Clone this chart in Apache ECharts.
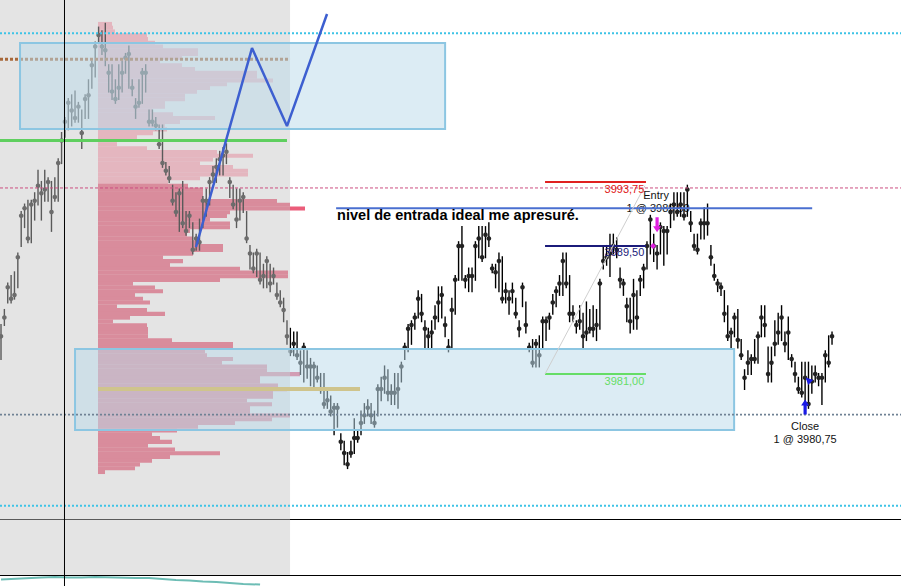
<!DOCTYPE html>
<html><head><meta charset="utf-8">
<script src="https://cdn.jsdelivr.net/npm/echarts@6/dist/echarts.min.js"></script>
<style>html,body{margin:0;padding:0;background:#fff;}#chart{width:901px;height:586px;}</style>
</head><body><div id="chart"></div>
<script>
// ---------------- DATA ----------------
const barHigh = [
3984.25,3985.25,3987.0,3987.5,3987.75,3989.0,3991.75,3992.25,3992.5,3992.5,
3993.0,3994.5,3993.75,3994.5,3994.0,3993.75,3994.0,3995.25,3997.0,3998.0,
3999.25,3999.5,3999.75,3999.0,3998.5,3999.5,4000.5,4001.75,4003.0,4004.0,
4003.75,4004.25,4001.5,4001.5,4000.5,4001.5,4001.75,4002.25,4002.75,4000.5,
3999.25,4000.5,4001.25,4001.5,3998.5,3998.5,3998.0,3997.5,3997.5,3995.0,
3994.75,3993.5,3993.0,3993.25,3993.75,3991.75,3991.75,3991.0,3990.25,3991.25,
3992.75,3993.25,3994.0,3994.75,3995.25,3995.75,3996.0,3996.25,3994.0,3993.5,
3993.25,3993.25,3993.0,3991.75,3989.5,3989.0,3989.25,3989.0,3988.25,3988.75,
3988.25,3988.0,3987.0,3986.5,3986.0,3984.5,3984.0,3983.75,3983.75,3982.5,
3983.0,3982.5,3982.0,3981.75,3981.5,3981.0,3981.0,3980.0,3979.5,3979.0,
3979.0,3977.0,3976.5,3975.75,3976.5,3978.0,3977.25,3978.5,3979.0,3979.25,
3979.0,3978.5,3980.25,3980.75,3981.5,3981.25,3980.25,3981.0,3981.0,3981.75,
3983.0,3984.25,3984.5,3985.0,3986.5,3986.25,3984.5,3984.0,3984.5,3985.5,
3986.75,3986.75,3984.75,3983.25,3986.0,3987.5,3989.75,3990.75,3987.5,3988.0,
3988.0,3989.75,3990.75,3990.75,3990.75,3991.0,3988.25,3988.25,3989.0,3988.75,
3987.0,3986.5,3987.0,3986.0,3984.5,3987.0,3985.75,3983.0,3983.25,3983.25,
3983.5,3984.75,3984.75,3985.0,3986.25,3986.75,3987.5,3989.0,3989.0,3987.5,
3985.5,3984.5,3985.5,3985.0,3985.75,3985.25,3985.5,3985.25,3987.25,3989.5,
3989.5,3990.25,3990.25,3990.0,3988.0,3987.25,3986.0,3986.0,3987.25,3986.5,
3987.5,3988.25,3989.75,3991.5,3990.25,3989.5,3991.0,3990.75,3990.75,3992.25,
3993.0,3993.0,3993.0,3993.0,3993.5,3991.75,3990.25,3990.25,3991.25,3992.0,
3992.25,3989.5,3988.25,3987.25,3987.0,3986.5,3985.5,3984.0,3985.0,3985.25,
3983.25,3981.25,3982.5,3982.25,3983.25,3983.75,3985.5,3985.5,3982.75,3982.75,
3984.5,3985.0,3985.5,3983.75,3984.75,3982.25,3981.75,3980.75,3981.75,3981.75,
3981.75,3981.5,3981.5,3981.0,3981.0,3982.5,3983.5,3983.75
];
const barLow = [
3982.0,3984.25,3985.75,3985.75,3986.0,3986.75,3989.5,3990.75,3989.75,3989.75,
3991.25,3992.25,3991.25,3992.5,3992.5,3990.5,3992.5,3992.5,3995.0,3996.75,
3997.25,3997.5,3997.75,3997.75,3996.0,3998.0,3998.0,4000.0,4000.75,4003.0,
4002.25,4001.5,3999.75,3999.25,3999.0,3999.25,3999.75,4001.0,4000.0,3999.5,
3998.0,3998.75,3999.0,3999.75,3997.5,3997.5,3997.25,3996.0,3994.75,3994.25,
3993.75,3992.25,3991.5,3990.5,3990.75,3990.25,3990.75,3989.0,3989.25,3989.25,
3990.75,3991.5,3992.25,3993.75,3993.75,3994.25,3994.25,3995.0,3992.75,3992.0,
3990.75,3991.25,3991.75,3989.75,3988.0,3987.75,3987.5,3987.0,3986.75,3986.75,
3986.5,3987.0,3986.0,3985.5,3984.5,3983.0,3982.25,3982.25,3982.0,3981.0,
3980.5,3980.75,3980.25,3980.0,3980.5,3979.75,3978.75,3978.75,3978.25,3977.0,
3977.5,3976.0,3975.0,3974.75,3975.5,3975.75,3976.5,3977.0,3977.75,3978.25,
3977.75,3977.5,3978.25,3979.25,3979.75,3979.25,3979.0,3979.0,3978.75,3980.5,
3982.0,3982.5,3983.0,3984.0,3984.75,3984.5,3982.75,3982.75,3982.75,3984.0,
3984.5,3984.75,3983.5,3982.5,3982.75,3985.0,3987.25,3987.25,3986.75,3986.5,
3986.5,3987.25,3988.75,3988.5,3988.75,3989.5,3987.75,3986.75,3986.5,3985.75,
3985.75,3985.0,3985.75,3984.75,3983.5,3985.5,3983.75,3982.5,3981.5,3981.5,
3981.5,3982.75,3983.25,3984.0,3985.0,3985.5,3986.25,3986.25,3986.75,3984.5,
3984.5,3983.75,3984.0,3982.75,3983.25,3983.75,3983.5,3983.25,3984.0,3988.0,
3988.25,3987.5,3989.0,3988.75,3986.75,3986.25,3984.5,3983.75,3984.0,3984.0,
3986.25,3986.75,3988.0,3989.0,3988.5,3988.0,3989.0,3988.25,3989.0,3990.75,
3991.25,3991.5,3991.5,3991.25,3991.5,3990.5,3989.25,3989.0,3990.0,3990.0,
3990.25,3988.25,3987.25,3986.5,3986.25,3984.5,3983.25,3982.75,3983.5,3982.75,
3982.0,3980.0,3981.0,3981.0,3981.75,3981.75,3983.5,3983.5,3980.5,3980.5,
3982.25,3983.0,3983.25,3982.5,3982.0,3981.5,3980.5,3979.75,3979.5,3979.0,
3978.75,3979.75,3980.5,3980.25,3979.0,3980.5,3981.5,3983.0
];
const barClose = [
3983.5,3984.75,3986.75,3986.0,3986.25,3988.75,3991.5,3992.0,3990.0,3992.25,
3992.5,3993.5,3993.0,3993.25,3993.75,3991.75,3992.75,3995.0,3996.5,3997.75,
3999.0,3998.5,3998.0,3998.75,3997.0,3999.25,3999.5,4001.5,4002.75,4003.5,
4002.75,4002.5,4001.0,3999.75,3999.25,4000.0,4001.0,4002.0,4002.25,4000.0,
3998.75,3999.0,4001.0,4001.0,3997.75,3997.75,3997.5,3996.25,3995.0,3994.5,
3994.0,3992.5,3991.75,3993.0,3991.0,3990.5,3991.5,3989.25,3990.0,3989.75,
3992.5,3992.5,3993.75,3994.25,3994.75,3995.25,3995.5,3995.75,3993.75,3992.25,
3991.25,3992.5,3992.75,3990.0,3989.0,3988.0,3989.0,3987.25,3987.5,3988.5,
3987.0,3987.5,3986.25,3985.75,3985.25,3983.5,3982.5,3983.0,3982.25,3981.75,
3982.75,3981.5,3981.5,3981.5,3980.75,3980.0,3979.0,3979.25,3978.5,3978.75,
3978.75,3976.5,3975.75,3975.0,3975.75,3976.75,3976.75,3977.75,3978.25,3978.75,
3978.25,3977.75,3980.0,3980.0,3980.75,3979.75,3979.75,3979.75,3980.0,3981.5,
3982.75,3984.0,3984.25,3984.75,3986.0,3985.0,3984.0,3983.5,3983.75,3984.75,
3985.75,3986.25,3984.25,3982.75,3985.25,3987.25,3989.5,3989.5,3987.25,3987.5,
3987.5,3989.5,3990.0,3988.75,3990.25,3990.0,3988.0,3987.75,3988.5,3986.0,
3986.5,3986.0,3986.5,3985.0,3984.0,3986.75,3984.25,3982.75,3981.75,3983.0,
3982.25,3984.5,3984.5,3984.75,3985.75,3986.5,3987.0,3988.5,3987.0,3985.0,
3985.0,3984.25,3984.5,3983.5,3983.75,3984.0,3984.0,3984.25,3987.0,3988.5,
3988.75,3989.0,3989.5,3989.25,3987.25,3987.0,3985.5,3984.5,3986.25,3984.75,
3987.25,3988.0,3989.5,3991.25,3989.5,3989.0,3990.75,3990.5,3990.5,3991.75,
3992.25,3991.75,3992.25,3991.5,3993.25,3991.0,3989.5,3989.25,3991.0,3991.0,
3991.0,3988.75,3987.5,3987.0,3986.75,3985.0,3983.5,3983.75,3984.75,3983.25,
3982.25,3980.75,3981.75,3982.0,3982.0,3983.5,3984.75,3984.25,3981.0,3981.75,
3983.0,3983.75,3984.75,3983.0,3983.75,3982.0,3981.0,3980.0,3979.75,3980.75,
3979.0,3980.5,3981.0,3980.75,3980.75,3982.25,3981.75,3983.5
];
// volume profile (price level, volume)
const profilePrice = [
4004.25,4004.0,4003.75,4003.5,4003.25,4003.0,4002.75,4002.5,4002.25,4002.0,
4001.75,4001.5,4001.25,4001.0,4000.75,4000.5,4000.25,4000.0,3999.75,3999.5,
3999.25,3999.0,3998.75,3998.5,3998.25,3998.0,3997.75,3997.5,3997.25,3997.0,
3996.75,3996.5,3996.25,3996.0,3995.75,3995.5,3995.25,3995.0,3994.75,3994.5,
3994.25,3994.0,3993.75,3993.5,3993.25,3993.0,3992.75,3992.5,3992.25,3992.0,
3991.75,3991.5,3991.25,3991.0,3990.75,3990.5,3990.25,3990.0,3989.75,3989.5,
3989.25,3989.0,3988.75,3988.5,3988.25,3988.0,3987.75,3987.5,3987.25,3987.0,
3986.75,3986.5,3986.25,3986.0,3985.75,3985.5,3985.25,3985.0,3984.75,3984.5,
3984.25,3984.0,3983.75,3983.5,3983.25,3983.0,3982.75,3982.5,3982.25,3982.0,
3981.75,3981.5,3981.25,3981.0,3980.75,3980.5,3980.25,3980.0,3979.75,3979.5,
3979.25,3979.0,3978.75,3978.5,3978.25,3978.0,3977.75,3977.5,3977.25,3977.0,
3976.75,3976.5,3976.25,3976.0,3975.75,3975.5,3975.25,3975.0,3974.75,3974.5
];
const profileVolume = [
14,15,17,49,50,57,65,100,100,84,
62,84,97,159,159,175,129,112,99,87,
87,67,67,54,75,117,82,67,69,55,
39,19,19,49,119,155,115,102,135,150,
150,102,70,90,105,105,105,179,192,207,
132,129,112,132,132,92,89,95,102,125,
125,95,65,85,72,142,190,190,122,35,
57,65,37,45,52,19,49,67,32,15,
49,50,50,50,74,135,135,107,109,135,
124,169,169,202,162,162,180,189,175,175,
149,174,152,152,192,174,137,100,79,54,
62,74,50,77,122,72,54,42,37,7
];
const valueAreaHigh = 3993.5;
const pocPrice = 3980.0;
// lower indicator pane
const indicatorX = [0,6,12,16,20,24,28,34,40,44,48,52,56,60,64,68,72,77];
const indicatorV = [6.5,7.5,8.5,9,8.5,8.5,9,8.5,8,8,7,6,5.5,4.5,4,3,2,1.5];
// drawn levels
const cyanTop = 4003.62, cyanBottom = 3972.25;
const grayDotted = 3978.3;
const brownDotted = 4001.9;
const greenLevel = 3996.5;
const pinkDashed = 3993.35;
const idealEntry = 3992.0;
const stopLevel = 3993.75, entryLevel = 3989.5, targetLevel = 3981.0;
const topZone = [5.65, 4002.97, 132.0, 3997.26];
const bottomZone = [22.0, 3982.66, 217.9, 3977.28];
const sessionEnd = 85.9;
const cursorBar = 18.87;
const sketchX = [57.96, 74.6, 85.0, 96.9];
const sketchY = [3989.43, 4002.64, 3997.46, 4004.9];
const tradeLineX = [161.7, 191.4];
const tradeLineY = [3981.0, 3993.5];

// ---------------- CHART ----------------
const X_MIN = -0.3, X_MAX = 267.5, P_MIN = 3971.37, P_MAX = 4005.83;
const FONT = 'Liberation Sans, Arial, sans-serif';
const chart = echarts.init(document.getElementById('chart'), null, {renderer: 'svg', width: 901, height: 586});

const hiddenX = (grid, min, max, line) => ({type: 'value', gridIndex: grid, min, max, show: true,
  axisLine: {show: !!line, onZero: false, lineStyle: {color: '#000', width: 1}},
  axisTick: {show: false}, axisLabel: {show: false}, splitLine: {show: false}});
const hiddenY = (grid, min, max) => ({type: 'value', gridIndex: grid, min, max, show: false, splitLine: {show: false}});

function seg(points, color, width, type, z, xi, yi) {
  return {type: 'line', xAxisIndex: xi || 0, yAxisIndex: yi || 0, data: points, symbol: 'none', z: z,
    silent: true, lineStyle: {color, width, type: type || 'solid', opacity: 1}, animation: false};
}
function rectSeries(data, fill, stroke, z, xi, yi) {
  return {type: 'custom', xAxisIndex: xi || 0, yAxisIndex: yi || 0, z, silent: true, data: data,
    renderItem: (params, api) => {
      const a = api.coord([api.value(0), api.value(1)]);
      const b = api.coord([api.value(2), api.value(3)]);
      return {type: 'rect', shape: {x: a[0], y: a[1], width: b[0] - a[0], height: b[1] - a[1]},
        style: {fill: fill, stroke: stroke || null, lineWidth: stroke ? 2 : 0}};
    }};
}
function textSeries(items, z) {
  return {type: 'scatter', z, silent: true, symbolSize: 0, animation: false, itemStyle: {opacity: 1},
    data: items.map(t => ({value: [t.x, t.y], label: {show: true, formatter: t.text, position: [0, 0],
      align: t.align || 'center', verticalAlign: 'middle', color: t.color || '#111', opacity: 1,
      fontFamily: FONT, fontSize: t.size || 11, fontWeight: t.bold ? 'bold' : 'normal'}}))};
}

const candleData = barHigh.map((h, i) => [i, h, barLow[i], barClose[i]]);
const profileData = profilePrice.map((p, i) => [profileVolume[i], p]);

const series = [];
// volume profile
series.push({type: 'custom', xAxisIndex: 1, yAxisIndex: 0, z: 1, silent: true, data: profileData,
  encode: {x: 0, y: 1},
  renderItem: (params, api) => {
    const v = api.value(0), p = api.value(1);
    const a = api.coord([0, p + 0.125]), b = api.coord([v, p - 0.125]);
    return {type: 'rect', shape: {x: a[0], y: a[1], width: b[0] - a[0], height: b[1] - a[1] + 0.3},
      style: {fill: p <= valueAreaHigh ? '#eb5d7a' : '#ffaabb'}};
  }});
// entry execution labels (behind bars)
series.push(textSeries([
  {text: 'Entry', x: 194.7, y: 3992.85},
  {text: '1 @ 3989,50', x: 195.3, y: 3992.0}
], 1));
// OHLC-style bars
series.push({type: 'custom', z: 2, silent: true, data: candleData, encode: {x: 0, y: [1, 2, 3]},
  renderItem: (params, api) => {
    const i = api.value(0);
    const h = api.coord([i, api.value(1)]), l = api.coord([i, api.value(2)]), c = api.coord([i, api.value(3)]);
    return {type: 'group', children: [
      {type: 'line', shape: {x1: h[0], y1: h[1] - 1, x2: l[0], y2: l[1] + 1}, style: {stroke: '#000', lineWidth: 1.4}},
      {type: 'circle', shape: {cx: c[0], cy: c[1], r: 2.3}, style: {fill: '#222'}}
    ]};
  }});
// session shading overlay
series.push(rectSeries([[X_MIN, P_MAX, sessionEnd, P_MIN]], 'rgba(196,196,196,0.46)', null, 3));
series.push(rectSeries([[X_MIN, 1, sessionEnd, 0]], 'rgba(196,196,196,0.46)', null, 3, 2, 1));
// brown dotted level (above shading, below zones)
series.push(seg([[X_MIN, brownDotted], [sessionEnd, brownDotted]], '#a8683a', 3, [3, 2], 3.5));
// zones
series.push(rectSeries([topZone, bottomZone], 'rgba(188,218,234,0.52)', '#8cc6e2', 4));
// levels and drawings
series.push(seg([[X_MIN, cyanTop], [X_MAX, cyanTop]], '#3ec3e6', 2, [2, 2], 5));
series.push(seg([[X_MIN, cyanBottom], [X_MAX, cyanBottom]], '#3ec3e6', 2, [2, 2], 5));
series.push(seg([[X_MIN, grayDotted], [X_MAX, grayDotted]], '#6f8194', 1.6, [2, 2], 5));
series.push(seg([[X_MIN, pinkDashed], [X_MAX, pinkDashed]], '#cc4d80', 1, [3, 2], 5));
series.push(seg([[X_MIN, greenLevel], [85.0, greenLevel]], '#5fcf5f', 3, 'solid', 5));
series.push(seg([[28.83, pocPrice], [106.7, pocPrice]], '#cfc48c', 4, 'solid', 5));
series.push(seg([[99.6, idealEntry], [241.1, idealEntry]], '#4a6fd0', 2, 'solid', 5));
series.push(seg([[161.7, stopLevel], [191.7, stopLevel]], '#e02020', 2, 'solid', 5));
series.push(seg([[161.7, entryLevel], [191.7, entryLevel]], '#1b1b7a', 2, 'solid', 5));
series.push(seg([[161.7, targetLevel], [191.7, targetLevel]], '#66dd66', 2, 'solid', 5));
series.push(seg(tradeLineX.map((x, i) => [x, tradeLineY[i]]), '#cfcfcf', 1, 'solid', 5));
series.push(seg(sketchX.map((x, i) => [x, sketchY[i]]), '#3d5fd0', 2.5, 'solid', 6));
// cursor line through all panes
series.push(seg([[cursorBar, P_MIN], [cursorBar, P_MAX]], '#000', 1, 'solid', 6));
series.push(seg([[cursorBar, 0], [cursorBar, 1]], '#000', 1, 'solid', 6, 2, 1));
series.push(seg([[cursorBar, 0], [cursorBar, 10]], '#000', 1, 'solid', 6, 3, 2));
// indicator pane
series.push(seg(indicatorX.map((x, i) => [x, indicatorV[i]]), '#6dbdb5', 2, 'solid', 5, 3, 2));
// texts
series.push(textSeries([
  {text: 'nivel de entrada ideal me apresuré.', x: 99.9, y: 3991.55, align: 'left', bold: true, size: 14.5, color: '#000'},
  {text: '3993,75', x: 191.2, y: 3993.3, align: 'right', color: '#e02020'},
  {text: '3989,50', x: 191.2, y: 3989.1, align: 'right', color: '#1b1b7a'},
  {text: '3981,00', x: 191.2, y: 3980.55, align: 'right', color: '#66dd66'},
  {text: 'Close', x: 239.0, y: 3977.55},
  {text: '1 @ 3980,75', x: 239.0, y: 3976.7}
], 7));
// execution arrows
series.push({type: 'scatter', z: 7, silent: true, animation: false, itemStyle: {opacity: 1}, data: [
  {value: [195.0, 3990.9], symbol: 'path://M3,0 L7,0 L7,9 L10,9 L5,15 L0,9 L3,9 Z', symbolSize: [8, 15], itemStyle: {color: '#e020e0', opacity: 1}},
  {value: [239.0, 3978.8], symbol: 'path://M5,0 L10,6 L7,6 L7,15 L3,15 L3,6 L0,6 Z', symbolSize: [8, 15], itemStyle: {color: '#1a1ae6', opacity: 1}},
  {value: [193.8, 3989.5], symbol: 'diamond', symbolSize: 6, itemStyle: {color: '#e020e0', opacity: 1}},
  {value: [239.9, 3980.6], symbol: 'triangle', symbolRotate: 45, symbolSize: 7, itemStyle: {color: '#1a1ae6', opacity: 1}}
]});

chart.setOption({
  animation: false,
  backgroundColor: '#ffffff',
  grid: [
    {left: 0, right: 0, top: 0, height: 519},
    {left: 0, right: 0, top: 519, height: 56},
    {left: 0, right: 0, top: 576, height: 10}
  ],
  xAxis: [
    hiddenX(0, X_MIN, X_MAX, true),
    Object.assign(hiddenX(0, -98, 803, false), {show: false}),
    hiddenX(1, X_MIN, X_MAX, true),
    Object.assign(hiddenX(2, X_MIN, X_MAX, false), {show: false})
  ],
  yAxis: [hiddenY(0, P_MIN, P_MAX), hiddenY(1, 0, 1), hiddenY(2, 0, 10)],
  series: series
});
</script></body></html>
